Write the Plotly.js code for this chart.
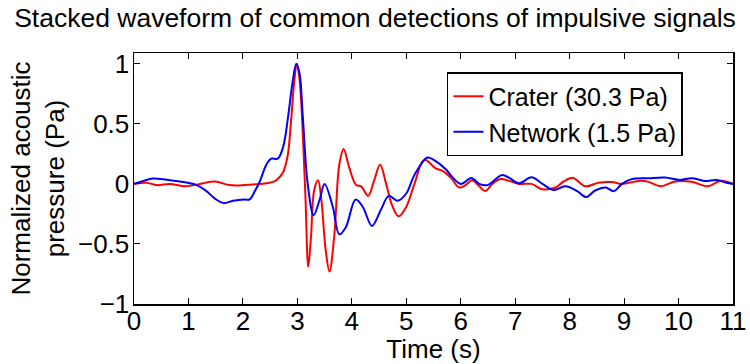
<!DOCTYPE html>
<html><head><meta charset="utf-8">
<script src="https://cdn.plot.ly/plotly-3.0.1.min.js"></script>
<style>html,body{margin:0;padding:0;background:#fff}</style>
</head><body><div id="chart" style="width:750px;height:364px"></div>
<script>
const craterTime = [0,0.23,0.42,0.66,0.94,1.21,1.48,1.76,2.03,2.31,2.49,2.61,2.73,2.82,2.88,2.94,2.99,3.04,3.10,3.15,3.20,3.25,3.31,3.38,3.44,3.52,3.59,3.68,3.77,3.85,3.95,4.08,4.17,4.30,4.41,4.52,4.63,4.75,4.86,5.0,5.15,5.33,5.54,5.66,5.82,5.97,6.09,6.21,6.34,6.45,6.58,6.73,6.89,7.07,7.30,7.50,7.74,7.89,8.06,8.29,8.53,8.78,8.96,9.27,9.45,9.67,9.94,10.24,10.55,10.76,11];
const crater = [0,0.01,-0.01,0,-0.02,0,0.02,-0.01,-0.01,0,0.01,0.03,0.09,0.23,0.5,0.84,1.0,0.87,0.42,-0.13,-0.69,-0.44,-0.05,0.03,-0.13,-0.55,-0.73,-0.42,0.16,0.29,0.14,-0.01,-0.02,-0.10,0.03,0.16,0,-0.19,-0.27,-0.19,0,0.2,0.13,0.11,0.05,-0.03,-0.01,0.03,-0.02,-0.06,0,0.04,0.025,0,0,-0.045,-0.03,0.02,0.05,-0.02,0.01,0.015,0,0.025,0.017,-0.02,0.02,0.017,-0.02,0.025,0];
const networkTime = [0,0.17,0.35,0.6,0.84,1.15,1.33,1.48,1.64,1.82,2.03,2.12,2.22,2.31,2.43,2.52,2.64,2.74,2.83,2.91,2.98,3.04,3.10,3.19,3.30,3.41,3.50,3.65,3.77,3.89,4.07,4.20,4.37,4.53,4.68,4.84,5.0,5.15,5.39,5.54,5.73,5.86,6.0,6.20,6.34,6.49,6.76,6.89,7.07,7.30,7.50,7.71,7.92,8.14,8.30,8.47,8.66,8.81,8.96,9.14,9.45,9.75,10.03,10.24,10.48,10.70,10.88,11];
const network = [0,0.025,0.045,0.035,0.02,-0.01,-0.06,-0.12,-0.16,-0.14,-0.13,-0.13,-0.06,0.02,0.16,0.21,0.21,0.31,0.56,0.84,1.0,0.92,0.56,0,-0.26,-0.13,0,-0.19,-0.42,-0.36,-0.13,-0.19,-0.35,-0.22,-0.1,-0.14,-0.08,0.075,0.22,0.19,0.12,0.05,0,0.05,0,-0.01,0.075,0.05,0.005,0.055,0,-0.05,-0.02,-0.06,-0.11,-0.055,-0.03,-0.06,0,0.04,0.047,0.053,0.033,0.047,0.025,0.033,0.01,0];
const xTicks = [0,1,2,3,4,5,6,7,8,9,10,11];
const yTicks = [-1,-0.5,0,0.5,1];
const seriesNames = ['Crater (30.3 Pa)','Network (1.5 Pa)'];

const font = {family:'Liberation Sans, Arial, sans-serif', size:26, color:'#000'};
const titleFont = {family:'Liberation Sans, Arial, sans-serif', size:26.5, color:'#000'};
const legendFont = {family:'Liberation Sans, Arial, sans-serif', size:25, color:'#000'};
const traces = [
  {x:craterTime, y:crater, name:seriesNames[0], type:'scatter', mode:'lines', line:{color:'#ff0000', width:2, shape:'spline', smoothing:1}},
  {x:networkTime, y:network, name:seriesNames[1], type:'scatter', mode:'lines', line:{color:'#0000ff', width:2, shape:'spline', smoothing:1}}
];
const axisCommon = {showline:true, linecolor:'#000', linewidth:1.5, mirror:'allticks', ticks:'inside', ticklen:6, tickcolor:'#000', showgrid:false, zeroline:false, tickfont:font};
const layout = {
  width:750, height:364,
  margin:{l:134, r:17, t:53, b:60},
  paper_bgcolor:'#fff', plot_bgcolor:'#fff',
  font:font,
  title:{text:'Stacked waveform of common detections of impulsive signals', font:titleFont, x:0.5, xanchor:'center', xref:'container', y:0.95, yanchor:'middle', yref:'container', automargin:false},
  xaxis:Object.assign({}, axisCommon, {range:[0,11], tickvals:xTicks, ticktext:xTicks.map(String), ticklabelstandoff:-7, title:{text:'Time (s)', font:font, standoff:0}}),
  yaxis:Object.assign({}, axisCommon, {range:[-1,1.09], tickvals:yTicks, ticktext:yTicks.map(v=>v<0?'\u2212'+Math.abs(v):String(v)), ticklabelstandoff:-2, title:{text:'Normalized acoustic<br>pressure (Pa)', font:font, standoff:6}}),
  legend:{x:0.5225, y:0.924, xanchor:'left', yanchor:'top', bordercolor:'#000', borderwidth:1.5, bgcolor:'#fff', font:legendFont, tracegroupgap:0},
  showlegend:true
};
Plotly.newPlot('chart', traces, layout, {displayModeBar:false, staticPlot:true});
</script></body></html>
